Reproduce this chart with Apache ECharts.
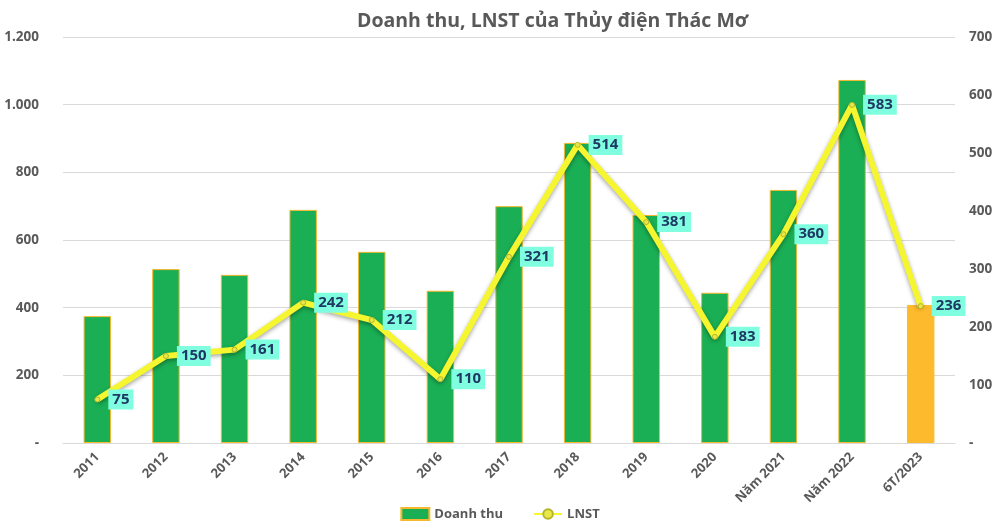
<!DOCTYPE html>
<html><head><meta charset="utf-8">
<script src="https://cdn.jsdelivr.net/npm/echarts@6/dist/echarts.min.js"></script>
<style>html,body{margin:0;padding:0;background:#fff}#c{width:1000px;height:528px}</style>
</head><body><div id="c"></div>
<script>
const categories = ['2011','2012','2013','2014','2015','2016','2017','2018','2019','2020','Năm 2021','Năm 2022','6T/2023'];
const revenue = [375, 514, 497, 689, 565, 450, 700, 887, 674, 444, 748, 1073, 408];
const profit = [75, 150, 161, 242, 212, 110, 321, 514, 381, 183, 360, 583, 236];
const leftTicks = [0, 200, 400, 600, 800, 1000, 1200];
const rightTicks = [0, 100, 200, 300, 400, 500, 600, 700];

const FONT = '"Open Sans", "Liberation Sans", sans-serif';
const fmt = v => v === 0 ? '-' : String(v).replace(/\B(?=(\d{3})+(?!\d))/g, '.');
const chart = echarts.init(document.getElementById('c'));
chart.setOption({
  animation: false,
  title: {text: 'Doanh thu, LNST của Thủy điện Thác Mơ', left: 352, top: 6,
    textStyle: {fontFamily: FONT, fontSize: 19.5, fontWeight: 'bold', color: '#595959'}},
  legend: {bottom: 2, left: 'center', itemGap: 30, itemWidth: 28, itemHeight: 12,
    textStyle: {fontFamily: FONT, fontSize: 13, color: '#595959', fontWeight: 'bold'},
    data: [{name: 'Doanh thu', icon: 'rect'}, {name: 'LNST'}]},
  grid: {left: 63, right: 45, top: 37, bottom: 85},
  xAxis: {type: 'category', data: categories,
    axisLine: {lineStyle: {color: '#d9d9d9'}}, axisTick: {show: false},
    axisLabel: {rotate: 45, fontFamily: FONT, fontSize: 13, fontWeight: 'bold', color: '#595959', margin: 12}},
  yAxis: [
    {type: 'value', min: 0, max: 1200, interval: 200,
      axisLabel: {formatter: fmt, fontFamily: FONT, fontSize: 13.5, fontWeight: 'bold', color: '#595959', margin: 24},
      splitLine: {lineStyle: {color: '#d9d9d9'}}, axisLine: {show: false}, axisTick: {show: false}},
    {type: 'value', min: 0, max: 700, interval: 100,
      axisLabel: {formatter: fmt, fontFamily: FONT, fontSize: 13.5, fontWeight: 'bold', color: '#595959', margin: 14},
      splitLine: {show: false}, axisLine: {show: false}, axisTick: {show: false}}
  ],
  series: [
    {name: 'Doanh thu', type: 'bar', yAxisIndex: 0, barWidth: '40%',
      data: revenue.map((v, i) => i === revenue.length - 1
        ? {value: v, itemStyle: {color: '#FDBA2C', borderColor: '#FDBA2C'}} : v),
      itemStyle: {color: '#1AAF54', borderColor: '#F5B82E', borderWidth: 1}},
    {name: 'LNST', type: 'line', yAxisIndex: 1, data: profit,
      symbol: 'circle', symbolSize: 5,
      lineStyle: {color: '#F5F530', width: 6, shadowColor: 'rgba(0,0,0,0.35)', shadowBlur: 4, shadowOffsetY: 2},
      itemStyle: {color: '#E8E84A', borderColor: '#B5B52A', borderWidth: 1},
      label: {show: true, position: 'right', distance: 8,
        fontFamily: FONT, fontSize: 15, fontWeight: 'bold', color: '#1F3864',
        backgroundColor: '#7FFFDF', padding: [3, 4, 2, 4]}, z: 5}
  ]
});
</script></body></html>
